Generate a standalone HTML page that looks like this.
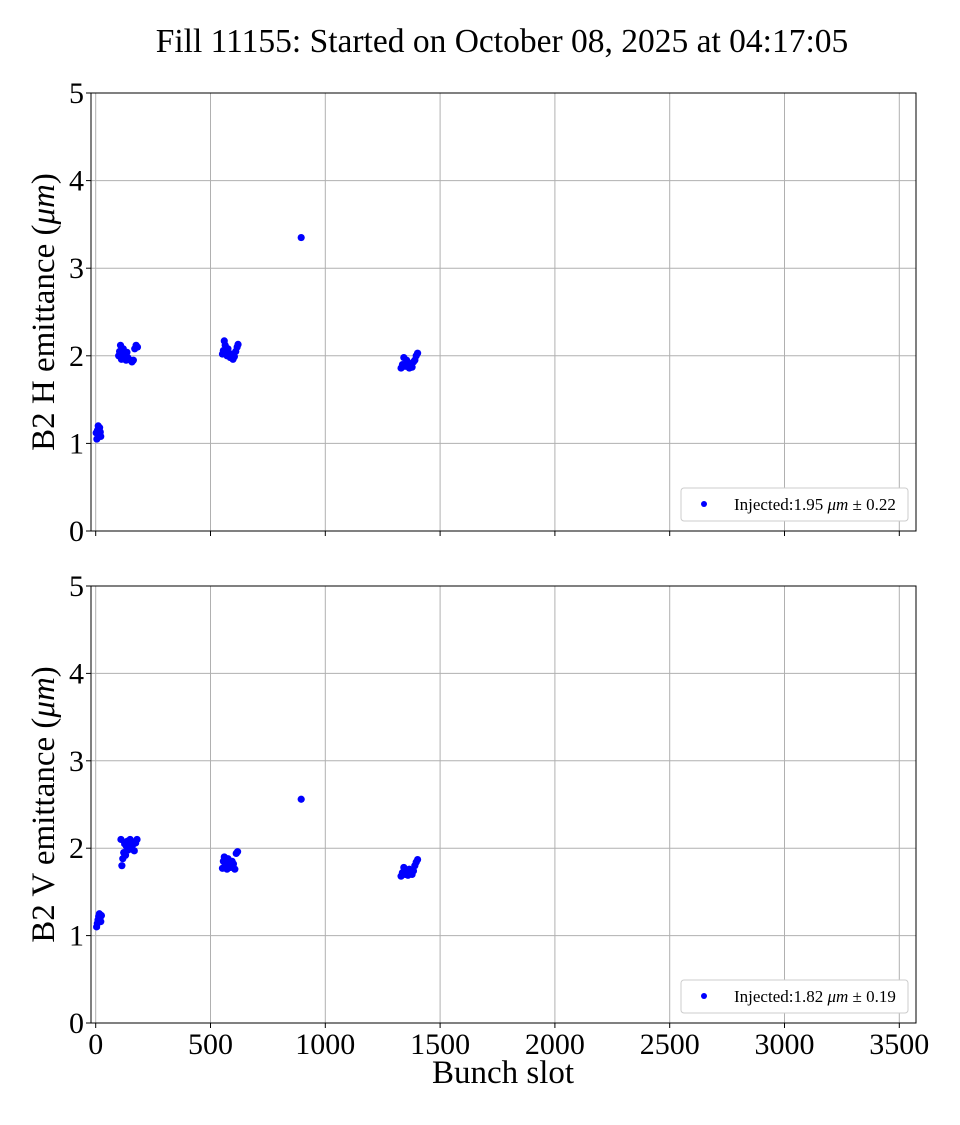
<!DOCTYPE html>
<html><head><meta charset="utf-8"><style>
body{margin:0;background:#fff;}
svg text{font-family:"Liberation Serif",serif;fill:#000;}
</style></head><body>
<svg id="c" width="960" height="1120" xmlns="http://www.w3.org/2000/svg">
<text x="502" y="52" font-size="33.5" text-anchor="middle">Fill 11155: Started on October 08, 2025 at 04:17:05</text>
</svg>
<script>
const xTicks=[0,500,1000,1500,2000,2500,3000,3500];
const yTicks=[0,1,2,3,4,5];
const hSlots=[2,5,8,11,14,17,20,22,100,104,108,112,116,120,124,128,132,136,140,152,158,164,170,176,182,552,556,560,564,568,572,576,580,586,592,598,604,610,616,620,895,1330,1336,1342,1348,1354,1360,1366,1372,1378,1384,1390,1396,1402];
const hVals=[1.12,1.05,1.15,1.2,1.1,1.18,1.13,1.08,2.0,2.05,2.12,1.96,2.02,2.08,1.97,2.0,1.95,2.04,1.98,1.95,1.93,1.95,2.08,2.12,2.1,2.02,2.06,2.17,2.12,2.03,2.0,2.08,2.0,1.98,2.02,1.96,1.99,2.05,2.1,2.13,3.35,1.86,1.9,1.98,1.88,1.95,1.92,1.86,1.9,1.87,1.93,1.95,2.0,2.03];
const vSlots=[4,7,10,13,16,19,22,25,110,114,118,122,126,130,134,138,142,146,150,156,162,168,174,180,552,556,560,564,568,572,576,582,588,594,600,606,612,618,895,1330,1336,1342,1348,1354,1360,1366,1372,1378,1384,1390,1396,1402];
const vVals=[1.1,1.14,1.18,1.22,1.25,1.2,1.16,1.23,2.1,1.8,1.88,1.95,2.05,1.92,2.02,2.08,1.98,2.05,2.1,2.0,2.04,1.97,2.06,2.1,1.77,1.85,1.9,1.8,1.83,1.76,1.88,1.8,1.78,1.85,1.82,1.76,1.94,1.96,2.56,1.68,1.72,1.78,1.7,1.74,1.69,1.76,1.72,1.7,1.74,1.8,1.84,1.87];
const NS='http://www.w3.org/2000/svg';
const svg=document.getElementById('c');
const L=91,R=916;
const xs=v=>95.7+v*0.2296;
function mk(t,a){const e=document.createElementNS(NS,t);for(const k in a)e.setAttribute(k,a[k]);svg.appendChild(e);return e;}
function panel(top,bot,slots,vals,label,legend,key,showX){
  const ys=v=>bot-(bot-top)*v/5;
  xTicks.forEach(t=>{const g=mk('line',{x1:xs(t),x2:xs(t),y1:top,y2:bot,stroke:'#b0b0b0','stroke-width':1});
    
    
    mk('line',{x1:xs(t),x2:xs(t),y1:bot,y2:bot+5,stroke:'#000'});
    if(showX){const tx=mk('text',{x:xs(t),y:bot+31,'font-size':30,'text-anchor':'middle'});tx.textContent=t;
      
      }
  });
  yTicks.forEach(t=>{const g=mk('line',{x1:L,x2:R,y1:ys(t),y2:ys(t),stroke:'#b0b0b0','stroke-width':1});
    
    
    mk('line',{x1:L-5,x2:L,y1:ys(t),y2:ys(t),stroke:'#000'});
    const tx=mk('text',{x:L-7,y:ys(t)+10,'font-size':30,'text-anchor':'end'});tx.textContent=t;
    
    
  });
  const fr=mk('rect',{x:L,y:top,width:R-L,height:bot-top,fill:'none',stroke:'#000','stroke-width':1});
  
  
  slots.forEach((s,i)=>{const c=mk('circle',{cx:xs(s),cy:ys(vals[i]),r:3.6,fill:'#0000ff'});
    
    });
  const yl=mk('text',{x:0,y:0,'font-size':33,'text-anchor':'middle',transform:`translate(54,${(top+bot)/2}) rotate(-90)`});
  yl.innerHTML=label+' emittance (<tspan font-style="italic">μm</tspan>)';
  
  
  const lb=mk('rect',{x:681,y:bot-43,width:227,height:33,rx:3,fill:'#fff',stroke:'#ccc'});
  
  
  mk('circle',{cx:704,cy:bot-27,r:3,fill:'#0000ff'});
  const lt=mk('text',{x:734,y:bot-21,'font-size':17});
  lt.innerHTML='Injected:'+legend+' <tspan font-style="italic">μm</tspan> ± '+(key==='h'?'0.22':'0.19');
  
  
}
panel(93,531,hSlots,hVals,'B2 H','1.95','h',false);
panel(586,1023,vSlots,vVals,'B2 V','1.82','v',true);
const xl=mk('text',{x:503,y:1083,'font-size':33,'text-anchor':'middle'});xl.textContent='Bunch slot';


</script>
</body></html>
